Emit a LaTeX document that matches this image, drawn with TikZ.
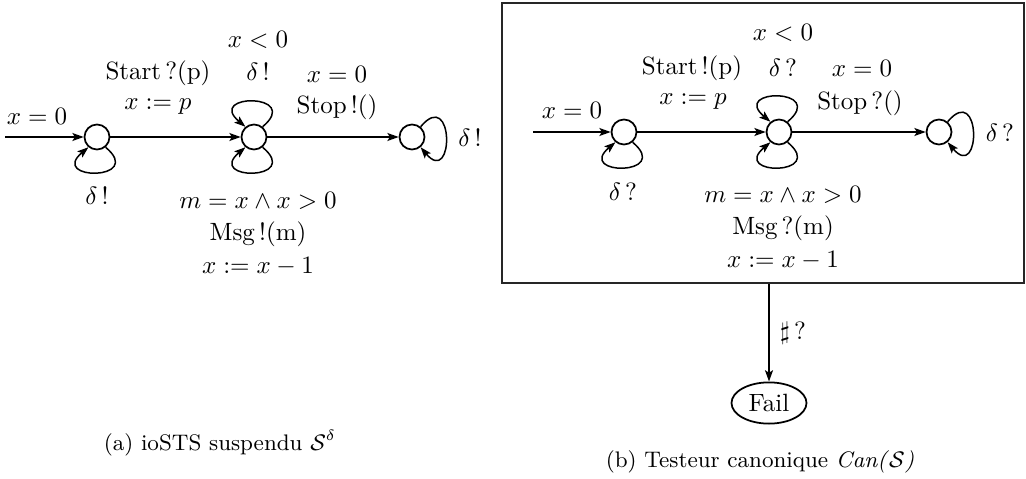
\documentclass[tikz,border=0pt]{standalone}
\usetikzlibrary{arrows.meta,shapes.geometric}
\begin{document}
\begin{tikzpicture}[x=0.4pt,y=-0.4pt,
  st/.style={circle,draw,line width=0.7pt,minimum size=10pt,inner sep=0pt},
  tr/.style={line width=0.6pt,-{Stealth[length=4.5pt,width=3.2pt,inset=1pt]}},
  lbl/.style={inner sep=0pt,anchor=center},
  captext/.style={inner sep=0pt,anchor=center,font=\small}]
\useasboundingbox (0,0) rectangle (1026,479);
% ---------- (a)
\coordinate (a0) at (5,137);
\node[st] (a1) at (97,137) {};
\node[st] (a2) at (254,137) {};
\node[st] (a3) at (412,137) {};
\draw[tr] (a0) -- (a1);
\draw[tr] (a1) -- (a2);
\draw[tr] (a2) -- (a3);
\draw[tr] (a1.-50) .. controls +(-40:21pt) and +(-140:21pt) .. (a1.-130);
\draw[tr] (a2.50) .. controls +(40:21pt) and +(140:21pt) .. (a2.130);
\draw[tr] (a2.-50) .. controls +(-40:21pt) and +(-140:21pt) .. (a2.-130);
\draw[tr] (a3.50) .. controls +(50:21pt) and +(-50:21pt) .. (a3.-50);
\node[lbl] (la0) at (37,116) {$x=0$};
\node[lbl] (la1) at (158,73) {Start\,?(p)};
\node[lbl] (la2) at (158,107) {$x:=p$};
\node[lbl] (la3) at (258,40) {$x<0$};
\node[lbl] (la4) at (258,72) {$\delta\,!$};
\node[lbl] (la5) at (337,74) {$x=0$};
\node[lbl] (la6) at (337,107) {Stop\,!()};
\node[lbl] (la7) at (470,138) {$\delta\,!$};
\node[lbl] (la8) at (97,196) {$\delta\,!$};
\node[lbl] (la9) at (258,201) {$m=x\wedge x>0$};
\node[lbl] (la10) at (258,234) {Msg\,!(m)};
\node[lbl] (la11) at (258,266) {$x:=x-1$};
\node[captext] (capa) at (220,443) {(a) ioSTS suspendu $\mathcal{S}^\delta$};
% ---------- (b)
\node[draw,line width=0.9pt,draw=black!85,minimum width=522*0.4pt,minimum height=280*0.4pt,inner sep=0pt] (box) at (763,143) {};
\coordinate (b0) at (533,132);
\node[st] (b1) at (624,132) {};
\node[st] (b2) at (779,132) {};
\node[st] (b3) at (939,132) {};
\draw[tr] (b0) -- (b1);
\draw[tr] (b1) -- (b2);
\draw[tr] (b2) -- (b3);
\draw[tr] (b1.-50) .. controls +(-40:21pt) and +(-140:21pt) .. (b1.-130);
\draw[tr] (b2.50) .. controls +(40:21pt) and +(140:21pt) .. (b2.130);
\draw[tr] (b2.-50) .. controls +(-40:21pt) and +(-140:21pt) .. (b2.-130);
\draw[tr] (b3.50) .. controls +(50:21pt) and +(-50:21pt) .. (b3.-50);
\node[lbl] (lb0) at (572,110) {$x=0$};
\node[lbl] (lb1) at (692,68) {Start\,!(p)};
\node[lbl] (lb2) at (693,102) {$x:=p$};
\node[lbl] (lb3) at (783,33) {$x<0$};
\node[lbl] (lb4) at (783,68) {$\delta\,?$};
\node[lbl] (lb5) at (862,68) {$x=0$};
\node[lbl] (lb6) at (860,103) {Stop\,?()};
\node[lbl] (lb7) at (1000,133) {$\delta\,?$};
\node[lbl] (lb8) at (623,192) {$\delta\,?$};
\node[lbl] (lb9) at (783,195) {$m=x\wedge x>0$};
\node[lbl] (lb10) at (783,228) {Msg\,?(m)};
\node[lbl] (lb11) at (783,260) {$x:=x-1$};
\node[ellipse,draw,line width=0.7pt,minimum width=30pt,minimum height=16.5pt,inner sep=1pt] (fail) at (769,403) {Fail};
\draw[tr] (box.south -| fail) -- (fail);
\node[lbl] (lsharp) at (793,333) {$\sharp\,?$};
\node[captext] (capb) at (760,462) {(b) Testeur canonique \textit{Can(}$\mathcal{S}$\textit{)}};
\end{tikzpicture}
\end{document}
